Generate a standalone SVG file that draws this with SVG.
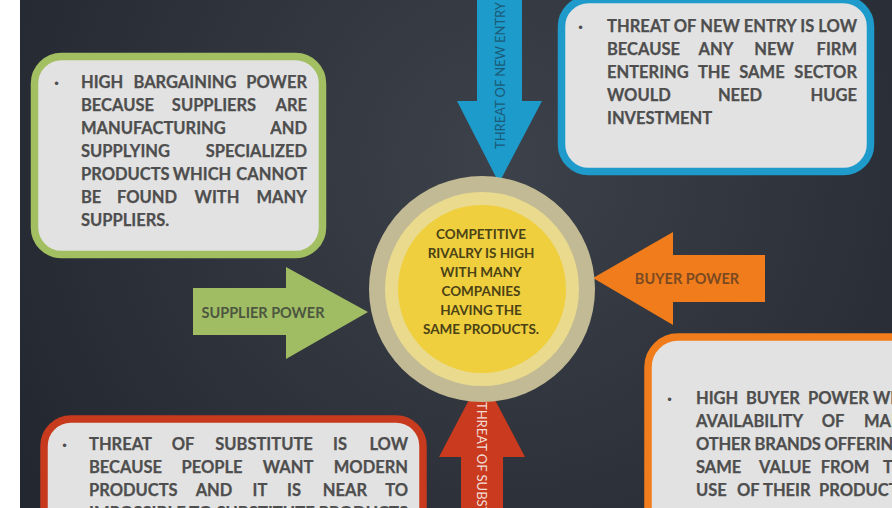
<svg xmlns="http://www.w3.org/2000/svg" width="892" height="508" viewBox="0 0 892 508">
<defs>
<radialGradient id="bg" cx="500" cy="160" r="560" gradientUnits="userSpaceOnUse">
<stop offset="0" stop-color="#3d4149"/>
<stop offset="1" stop-color="#23272f"/>
</radialGradient>
<style>
.box{fill:#e2e2e2;stroke-width:7.5}
.bt{font-family:Lato,"Open Sans",sans-serif;font-weight:700;font-size:16.5px;fill:#4e4e4e;stroke:#4e4e4e;stroke-width:0.25}
.bul{font-family:"DejaVu Sans",sans-serif;font-size:12px;fill:#4e4e4e}
.ct{font-family:Lato,"Open Sans",sans-serif;font-weight:700;font-size:13.5px;fill:#4b4215;text-anchor:middle}
.at{font-family:Lato,"Open Sans",sans-serif;font-weight:700;font-size:14.5px}
.vt{font-family:Lato,"Open Sans",sans-serif;font-weight:400;font-size:13px}
</style>
</defs>
<rect x="0" y="0" width="892" height="508" fill="url(#bg)"/>
<rect x="0" y="0" width="20" height="508" fill="#ffffff"/>

<g id="supplier-box">
<rect class="box" x="34.5" y="56.5" width="288" height="198" rx="27" stroke="#a2bf62"/>
<text class="bul" x="53" y="88">•</text>
<text class="bt" y="88"><tspan x="81">HIGH</tspan><tspan x="185" text-anchor="middle">BARGAINING</tspan><tspan x="307" text-anchor="end">POWER</tspan></text>
<text class="bt" y="111"><tspan x="81">BECAUSE</tspan><tspan x="214" text-anchor="middle">SUPPLIERS</tspan><tspan x="307" text-anchor="end">ARE</tspan></text>
<text class="bt" y="134"><tspan x="81">MANUFACTURING</tspan><tspan x="307" text-anchor="end">AND</tspan></text>
<text class="bt" y="157"><tspan x="81">SUPPLYING</tspan><tspan x="307" text-anchor="end">SPECIALIZED</tspan></text>
<text class="bt" y="180"><tspan x="81">PRODUCTS</tspan><tspan x="202" text-anchor="middle">WHICH</tspan><tspan x="307" text-anchor="end">CANNOT</tspan></text>
<text class="bt" y="203"><tspan x="81">BE</tspan><tspan x="147" text-anchor="middle">FOUND</tspan><tspan x="217" text-anchor="middle">WITH</tspan><tspan x="307" text-anchor="end">MANY</tspan></text>
<text class="bt" x="81" y="226">SUPPLIERS.</text>
</g>

<g id="entry-box">
<rect class="box" x="561.5" y="-0.5" width="309" height="172" rx="27" stroke="#1e9bcb"/>
<text class="bul" x="577" y="32">•</text>
<text class="bt" x="607" y="32" textLength="250" lengthAdjust="spacing">THREAT OF NEW ENTRY IS LOW</text>
<text class="bt" y="55"><tspan x="607">BECAUSE</tspan><tspan x="716" text-anchor="middle">ANY</tspan><tspan x="774" text-anchor="middle">NEW</tspan><tspan x="857" text-anchor="end">FIRM</tspan></text>
<text class="bt" y="78"><tspan x="607">ENTERING</tspan><tspan x="714" text-anchor="middle">THE</tspan><tspan x="762" text-anchor="middle">SAME</tspan><tspan x="857" text-anchor="end">SECTOR</tspan></text>
<text class="bt" y="101"><tspan x="607">WOULD</tspan><tspan x="740" text-anchor="middle">NEED</tspan><tspan x="857" text-anchor="end">HUGE</tspan></text>
<text class="bt" x="607" y="124">INVESTMENT</text>
</g>

<g id="substitute-box">
<rect class="box" x="44" y="419" width="379" height="150" rx="27" stroke="#c83a1e"/>
<text class="bul" x="61" y="450">•</text>
<text class="bt" y="450"><tspan x="89">THREAT</tspan><tspan x="183" text-anchor="middle">OF</tspan><tspan x="264" text-anchor="middle">SUBSTITUTE</tspan><tspan x="340" text-anchor="middle">IS</tspan><tspan x="408" text-anchor="end">LOW</tspan></text>
<text class="bt" y="473"><tspan x="89">BECAUSE</tspan><tspan x="212" text-anchor="middle">PEOPLE</tspan><tspan x="288" text-anchor="middle">WANT</tspan><tspan x="408" text-anchor="end">MODERN</tspan></text>
<text class="bt" y="496"><tspan x="89">PRODUCTS</tspan><tspan x="214" text-anchor="middle">AND</tspan><tspan x="260" text-anchor="middle">IT</tspan><tspan x="294" text-anchor="middle">IS</tspan><tspan x="345" text-anchor="middle">NEAR</tspan><tspan x="408" text-anchor="end">TO</tspan></text>
<text class="bt" x="89" y="519" textLength="319" lengthAdjust="spacing">IMPOSSIBLE TO SUBSTITUTE PRODUCTS</text>
</g>

<g id="buyer-box">
<rect class="box" x="648" y="337" width="300" height="250" rx="30" stroke="#f07c1b"/>
<text class="bul" x="666" y="404">•</text>
<text class="bt" y="404"><tspan x="696">HIGH</tspan><tspan x="746">BUYER</tspan><tspan x="808">POWER</tspan><tspan x="873">WITH</tspan></text>
<text class="bt" y="427"><tspan x="696">AVAILABILITY</tspan><tspan x="833" text-anchor="middle">OF</tspan><tspan x="864">MANY</tspan></text>
<text class="bt" x="696" y="450" textLength="209" lengthAdjust="spacing">OTHER BRANDS OFFERING</text>
<text class="bt" y="473"><tspan x="696">SAME</tspan><tspan x="785" text-anchor="middle">VALUE</tspan><tspan x="845" text-anchor="middle">FROM</tspan><tspan x="883">THE</tspan></text>
<text class="bt" y="496"><tspan x="696">USE</tspan><tspan x="737">OF</tspan><tspan x="763">THEIR</tspan><tspan x="819">PRODUCTS.</tspan></text>
</g>

<g id="connectors">
<g id="new-entry-arrow">
<polygon points="477,-2 522,-2 522,101 542,101 499,183 457,101 477,101" fill="#1d9bcb"/>
<text class="vt" fill="#1b5a76" transform="translate(505,149) rotate(-90)" textLength="147" lengthAdjust="spacing">THREAT OF NEW ENTRY</text>
</g>
<g id="supplier-arrow">
<polygon points="193,288 286,288 286,267 368,312 286,359 286,335 193,335" fill="#a0bd64"/>
<text class="at" fill="#4d5640" x="263" y="318" text-anchor="middle">SUPPLIER POWER</text>
</g>
<g id="buyer-arrow">
<polygon points="765,255 673,255 673,232 593,278 673,325 673,302 765,302" fill="#f07c1b"/>
<text class="at" fill="#7b4a22" x="687" y="284" text-anchor="middle">BUYER POWER</text>
</g>
<g id="substitute-arrow">
<polygon points="461,510 503,510 503,457 525,457 482,375 439,457 461,457" fill="#c93a1f"/>
<text class="vt" fill="#f2ddd5" transform="translate(477,402) rotate(90)">THREAT OF SUBSTITUTE</text>
</g>
</g>

<g id="rivalry">
<circle cx="482" cy="289" r="113" fill="#c2ba94"/>
<circle cx="482" cy="289" r="97" fill="#e9da8d"/>
<circle cx="482" cy="289" r="84" fill="#efcf3e"/>
<text class="ct" x="481" y="239">COMPETITIVE</text>
<text class="ct" x="481" y="258">RIVALRY IS HIGH</text>
<text class="ct" x="481" y="277">WITH MANY</text>
<text class="ct" x="481" y="296">COMPANIES</text>
<text class="ct" x="481" y="315">HAVING THE</text>
<text class="ct" x="481" y="334">SAME PRODUCTS.</text>
</g>
</svg>
